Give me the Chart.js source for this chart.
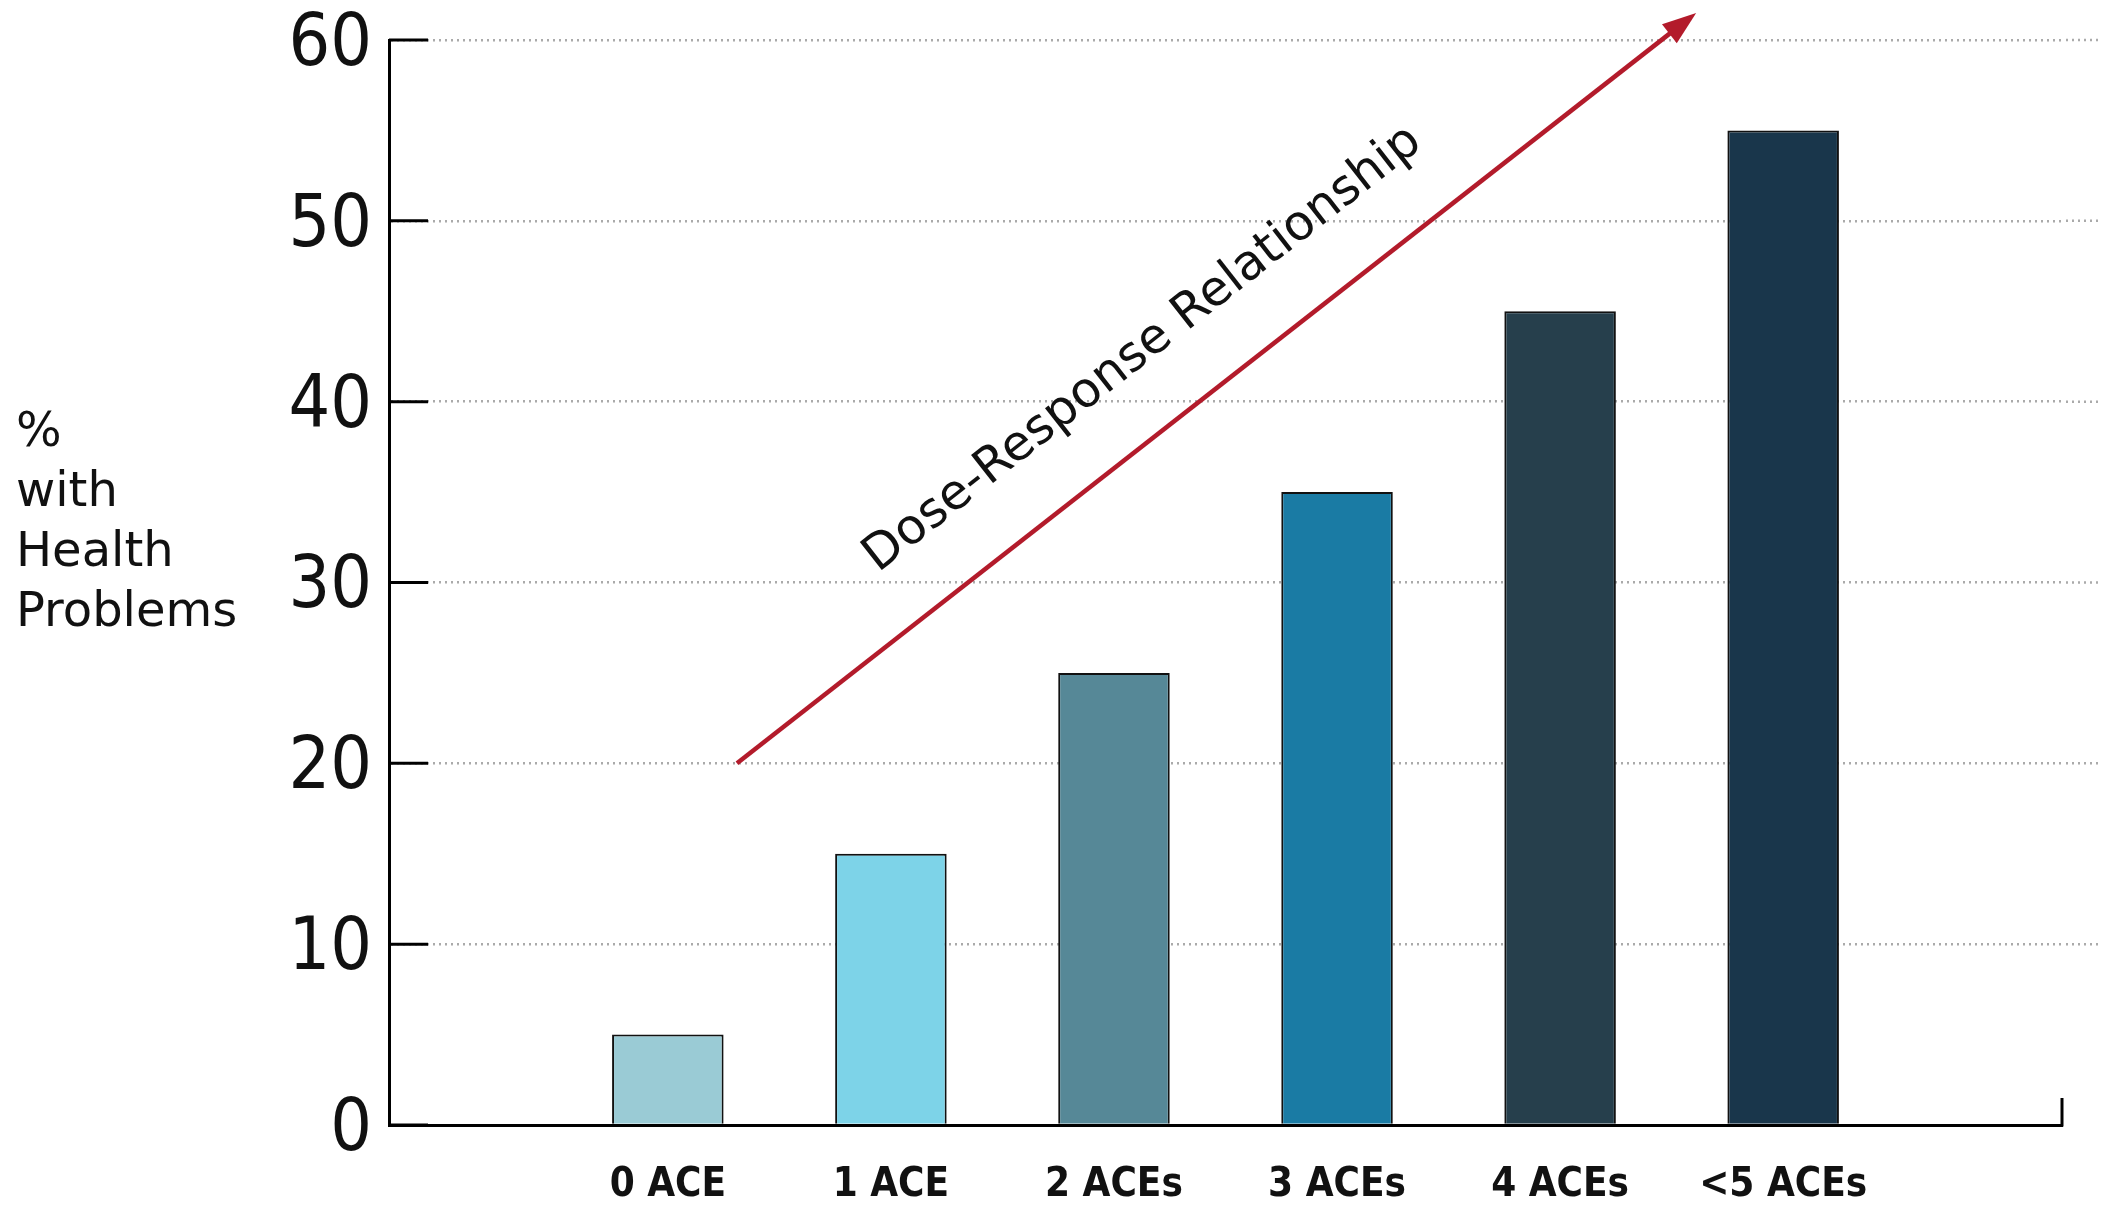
<!DOCTYPE html>
<html>
<head>
<meta charset="utf-8">
<script src="https://cdn.jsdelivr.net/npm/chart.js@4.4.1/dist/chart.umd.min.js"></script>
<style>
    html, body { margin: 0; padding: 0; background: #fff; }
    #wrap { width: 2101px; height: 1206px; }
</style>
</head>
<body>
<div id="wrap"><canvas id="aceChart" width="2101" height="1206"></canvas></div>
<script>
const categories = ['0 ACE', '1 ACE', '2 ACEs', '3 ACEs', '4 ACEs', '<5 ACEs'];
const percentWithProblems = [5, 15, 25, 35, 45, 55];
const barColors = ['#9acbd5', '#7dd3e8', '#568897', '#1a7ba4', '#263f4c', '#19364b'];
const yTicks = [0, 10, 20, 30, 40, 50, 60];
const yTitleLines = ['%', 'with', 'Health', 'Problems'];
// arrow runs from [category position, %] to [category position, %]
const arrowFrom = [0.31, 20];
const arrowTo = [4.61, 61.5];
const arrowLabel = 'Dose-Response Relationship';

const condensed = '"DejaVu Sans Condensed", "DejaVu Sans", sans-serif';
const gridGrey = '#aaaaaa';

const extras = {
    id: 'extras',
    afterDraw(chart) {
        const { ctx, chartArea, scales: { x, y } } = chart;
        ctx.save();

        // dotted grid keeps going past the end of the x axis
        ctx.strokeStyle = gridGrey;
        ctx.lineWidth = 2.5;
        ctx.setLineDash([2, 4]);
        yTicks.slice(1).forEach(v => {
            const py = y.getPixelForValue(v);
            ctx.beginPath();
            ctx.moveTo(chartArea.right + 4, py);
            ctx.lineTo(chart.width, py);
            ctx.stroke();
        });
        ctx.setLineDash([]);

        // short solid ticks on the inside of the y axis
        ctx.strokeStyle = '#000';
        ctx.lineWidth = 3;
        yTicks.forEach(v => {
            const py = y.getPixelForValue(v);
            ctx.beginPath();
            ctx.moveTo(chartArea.left, py);
            ctx.lineTo(chartArea.left + 39, py);
            ctx.stroke();
        });
        // little upward tick at the end of the x axis
        ctx.beginPath();
        ctx.moveTo(chartArea.right, chartArea.bottom + 1.5);
        ctx.lineTo(chartArea.right, chartArea.bottom - 27);
        ctx.stroke();

        // y title, horizontal lines
        ctx.fillStyle = '#111';
        ctx.font = '48px "DejaVu Sans", sans-serif';
        ctx.textAlign = 'left';
        ctx.textBaseline = 'alphabetic';
        yTitleLines.forEach((t, i) => {
            ctx.fillText(t, 16, 446 + i * 60);
        });

        // dose-response arrow
        const x0 = x.getPixelForValue(arrowFrom[0]), y0 = y.getPixelForValue(arrowFrom[1]);
        const x1 = x.getPixelForValue(arrowTo[0]), y1 = y.getPixelForValue(arrowTo[1]);
        const ang = Math.atan2(y1 - y0, x1 - x0);
        const cos = Math.cos(ang), sin = Math.sin(ang);
        const head = 34, half = 12;
        ctx.strokeStyle = '#b31b2b';
        ctx.fillStyle = '#b31b2b';
        ctx.lineWidth = 4.5;
        ctx.beginPath();
        ctx.moveTo(x0, y0);
        ctx.lineTo(x1 - head * 0.8 * cos, y1 - head * 0.8 * sin);
        ctx.stroke();
        ctx.beginPath();
        ctx.moveTo(x1, y1);
        ctx.lineTo(x1 - head * cos + half * sin, y1 - head * sin - half * cos);
        ctx.lineTo(x1 - head * cos - half * sin, y1 - head * sin + half * cos);
        ctx.closePath();
        ctx.fill();

        // label along the arrow
        const len = Math.hypot(x1 - x0, y1 - y0);
        ctx.translate(x0, y0);
        ctx.rotate(ang);
        ctx.fillStyle = '#111';
        ctx.font = '49px "DejaVu Sans", sans-serif';
        ctx.textAlign = 'center';
        ctx.fillText(arrowLabel, len * 0.472, -63);

        ctx.restore();
    }
};

new Chart('aceChart', {
    type: 'bar',
    data: {
        datasets: [{
            data: percentWithProblems.map((v, i) => ({ x: i, y: v })),
            backgroundColor: barColors,
            borderColor: '#111',
            borderWidth: 2,
            categoryPercentage: 1,
            barPercentage: 0.5
        }]
    },
    options: {
        responsive: false,
        animation: false,
        events: [],
        layout: { padding: { top: 40, right: 39, left: 0, bottom: 0 } },
        plugins: { legend: { display: false }, tooltip: { enabled: false } },
        scales: {
            x: {
                type: 'linear',
                offset: false,
                min: -1.25,
                max: 6.25,
                grid: { display: false },
                border: { display: true, color: '#000', width: 3 },
                afterBuildTicks: scale => {
                    scale.ticks = categories.map((c, i) => ({ value: i }));
                },
                afterFit: scale => {
                    scale.height = 81;
                    scale.paddingLeft = 0;
                    scale.paddingRight = 0;
                },
                ticks: {
                    autoSkip: false,
                    maxRotation: 0,
                    padding: 29,
                    color: '#111',
                    font: { family: condensed, size: 40, weight: 'bold' },
                    callback: v => categories[v]
                }
            },
            y: {
                min: 0,
                max: 60,
                afterBuildTicks: scale => {
                    scale.ticks = yTicks.map(v => ({ value: v }));
                },
                afterFit: scale => {
                    scale.width = 389;
                    scale.paddingTop = 0;
                    scale.paddingBottom = 0;
                },
                grid: {
                    drawTicks: false,
                    color: ctx => ctx.tick && ctx.tick.value === 0 ? 'rgba(0,0,0,0)' : gridGrey,
                    lineWidth: 2.5
                },
                border: { display: true, color: '#000', width: 3, dash: [2, 4] },
                ticks: {
                    padding: 17,
                    labelOffset: 6,
                    color: '#111',
                    font: { family: condensed, size: 73 }
                }
            }
        }
    },
    plugins: [extras]
});
</script>
</body>
</html>
